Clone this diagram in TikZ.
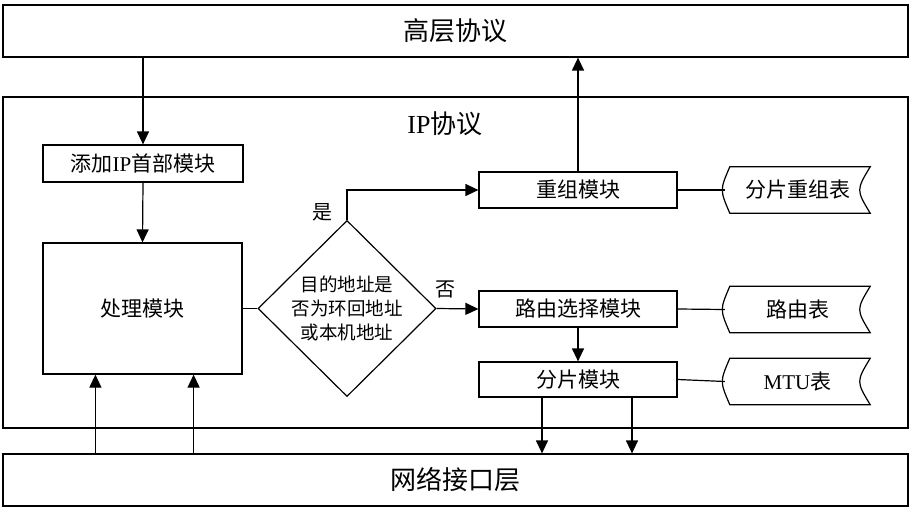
\documentclass[tikz,border=0pt]{standalone}
\usepackage{fontspec}
\setmainfont{Liberation Serif}
\newfontfamily\cjk{Noto Sans CJK SC}
\usetikzlibrary{arrows.meta,shapes.geometric}
\tikzset{
  ln/.style={line width=1.2pt},
  arr/.style={line width=1.2pt, -{Triangle[length=13pt,width=12pt]}},
  box/.style={draw, line width=1.2pt, inner sep=0pt, font=\cjk\fontsize{21}{21}\selectfont},
  layer/.style={draw, line width=1.2pt, inner sep=0pt, minimum width=905pt, font=\cjk\fontsize{26}{26}\selectfont},
  tabnode/.style={inner sep=0pt, minimum width=145pt, minimum height=46pt, font=\cjk\fontsize{21}{21}\selectfont},
  lbl/.style={inner sep=0pt, font=\cjk\fontsize{20}{20}\selectfont},
  tabshape/.style={line width=1.2pt}
}
\newcommand\drawtab[1]{%
  \draw[tabshape] ([xshift=5pt]#1.north west) -- (#1.north east)
    .. controls ([xshift=-14pt]#1.east) .. (#1.south east)
    -- ([xshift=5pt]#1.south west)
    .. controls ([xshift=-5pt]#1.west) .. ([xshift=5pt]#1.north west) -- cycle;}
\begin{document}
\begin{tikzpicture}[x=1pt,y=-1pt]
\useasboundingbox (0,0) rectangle (913,511);
% layers
\node[layer, minimum height=52pt] (top) at (455.5,31) {高层协议};
\node[draw, line width=1.2pt, inner sep=0pt, minimum width=905pt, minimum height=331pt] (ip) at (455.5,262.5) {};
\node[inner sep=0pt, font=\cjk\fontsize{26}{26}\selectfont] (iplbl) at (445,124) {{\rmfamily IP}协议};
\node[layer, minimum height=52pt] (net) at (455.5,480) {网络接口层};
% left column
\node[box, minimum width=200pt, minimum height=37pt] (add) at (143,163.5) {添加{\rmfamily IP}首部模块};
\node[box, minimum width=199pt, minimum height=131pt] (proc) at (142.5,308.5) {处理模块};
% decision
\node[draw, line width=1.2pt, diamond, inner sep=0pt, minimum width=178pt, minimum height=171pt,
      align=center, font=\cjk\fontsize{18.5}{24}\selectfont] (dia) at (347,308.5)
      {目的地址是\\否为环回地址\\或本机地址};
% right modules
\node[box, minimum width=198pt, minimum height=36pt] (m1) at (578,190) {重组模块};
\node[box, minimum width=198pt, minimum height=36pt] (m2) at (578,309) {路由选择模块};
\node[box, minimum width=198pt, minimum height=35pt] (m3) at (578,379.5) {分片模块};
% tables
\node[tabnode] (t1) at (797.5,190) {分片重组表};
\node[tabnode] (t2) at (797.5,309.5) {路由表};
\node[tabnode] (t3) at (797.5,381.5) {{\rmfamily MTU}表};
\drawtab{t1}
\drawtab{t2}
\drawtab{t3}
% labels
\node[lbl] (yes) at (322,212) {是};
\node[lbl] (no) at (445,289) {否};
% connectors
\draw[arr] (top.south -| add.north) -- (add.north);
\draw[arr] (add.south) -- (proc.north);
\draw[ln] (proc.east) -- (dia.west);
\draw[arr] (dia.north) |- (m1.west);
\draw[arr] (dia.east) -- (m2.west);
\draw[arr] (m1.north) -- (m1.north |- top.south);
\draw[ln] (m1.east) -- (t1.west);
\draw[ln] (m2.east) -- (t2.west);
\draw[ln] (m3.east) -- (t3.west);
\draw[arr] (m2.south) -- (m3.north);
\coordinate (d1) at ([xshift=-36pt]m3.south);
\coordinate (d2) at ([xshift=54pt]m3.south);
\draw[arr] (d1) -- (d1 |- net.north);
\draw[arr] (d2) -- (d2 |- net.north);
\coordinate (u1) at ([xshift=53pt]proc.south west);
\coordinate (u2) at ([xshift=-49pt]proc.south east);
\draw[arr] (u1 |- net.north) -- (u1);
\draw[arr] (u2 |- net.north) -- (u2);
\end{tikzpicture}
\end{document}
